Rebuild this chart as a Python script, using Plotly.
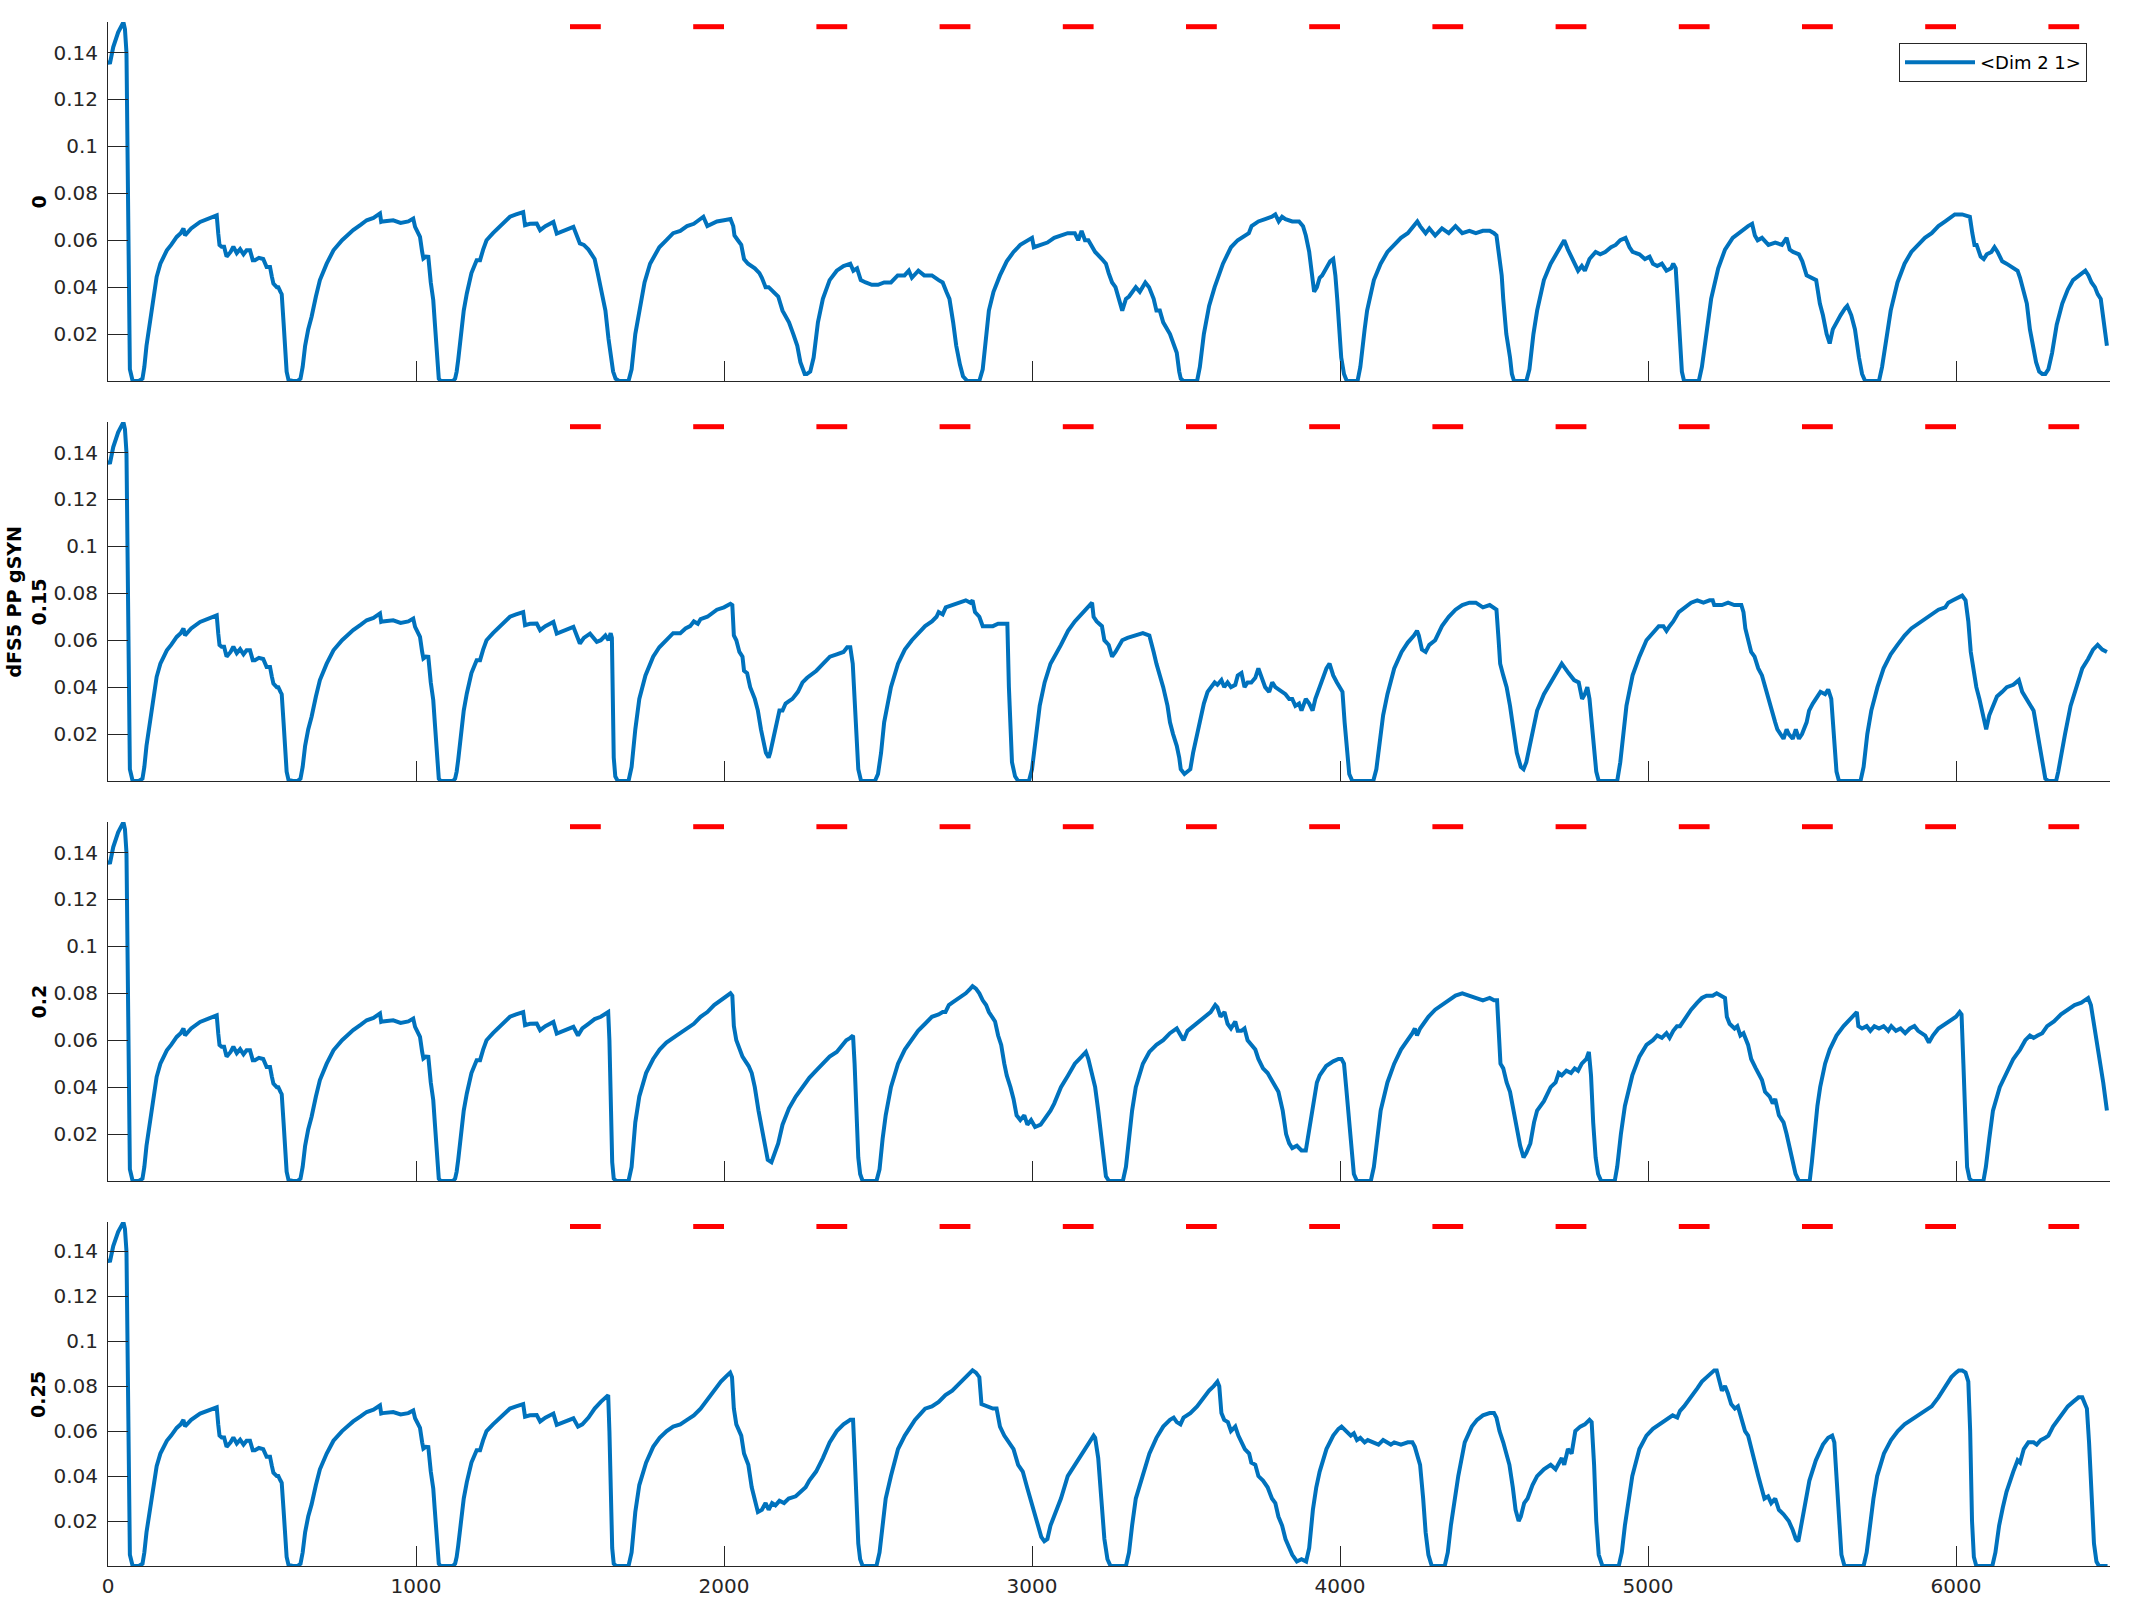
import plotly.graph_objects as go

# ---------------- data ----------------
x_ticks = [0, 1000, 2000, 3000, 4000, 5000, 6000]
y_ticks = [0.02, 0.04, 0.06, 0.08, 0.1, 0.12, 0.14]
y_tick_text = ["0.02", "0.04", "0.06", "0.08", "0.1", "0.12", "0.14"]
panel_labels = ["0", "0.15", "0.2", "0.25"]
group_label = "dFS5 PP gSYN"
legend_name = "&lt;Dim 2 1&gt;"

# red stimulus bars
stim_starts = [1500, 1900, 2300, 2700, 3100, 3500, 3900, 4300, 4700, 5100, 5500, 5900, 6300]
stim_ends = [1600, 2000, 2400, 2800, 3200, 3600, 4000, 4400, 4800, 5200, 5600, 6000, 6400]
stim_level = 0.151

# common start of all four traces (x, value)
shared_start = [
    (0, 0.1366), (6, 0.1352), (17, 0.1423), (33, 0.1486), (50, 0.1529), (55, 0.150), (60, 0.140),
    (64, 0.100), (67, 0.040), (71, 0.005), (80, 0.0), (100, 0.0), (112, 0.001), (118, 0.006),
    (125, 0.015), (131, 0.0203), (140, 0.030), (149, 0.038), (158, 0.0444), (170, 0.050),
    (180, 0.053), (191, 0.0557), (205, 0.058), (223, 0.0614), (236, 0.063), (245, 0.065),
    (250, 0.0621), (270, 0.065), (299, 0.0678), (325, 0.069), (353, 0.0706), (358, 0.0628),
    (362, 0.058), (369, 0.0572), (377, 0.0572), (385, 0.053), (398, 0.055), (407, 0.0572),
    (418, 0.0545), (429, 0.0562), (440, 0.054), (450, 0.0557), (461, 0.0557), (470, 0.0515),
    (477, 0.0515), (490, 0.0525), (504, 0.052), (515, 0.0486), (526, 0.0486), (532, 0.0445),
    (537, 0.0415), (548, 0.040), (553, 0.040), (560, 0.038), (564, 0.037), (570, 0.025),
    (575, 0.0132), (580, 0.004), (586, 0.0005), (600, 0.0), (615, 0.0), (625, 0.001),
    (632, 0.006), (640, 0.015), (650, 0.022), (661, 0.0274), (675, 0.036), (688, 0.043),
    (710, 0.050), (732, 0.0557), (760, 0.060), (796, 0.0643), (820, 0.0665), (840, 0.0685),
    (862, 0.0695), (883, 0.0714), (887, 0.0678), (892, 0.068), (926, 0.0685), (950, 0.0674),
    (975, 0.068), (991, 0.0692), (997, 0.0657), (1005, 0.063), (1013, 0.0614), (1020, 0.055),
    (1024, 0.0522), (1032, 0.053), (1040, 0.0529), (1048, 0.042), (1056, 0.0345), (1061, 0.025),
    (1065, 0.016), (1069, 0.0061), (1074, 0.001), (1080, 0.0), (1100, 0.0), (1120, 0.0),
    (1127, 0.001), (1132, 0.004), (1137, 0.009), (1145, 0.02), (1155, 0.030), (1165, 0.0373),
    (1180, 0.046), (1197, 0.0515), (1208, 0.0515), (1218, 0.056), (1229, 0.060), (1250, 0.063),
    (1273, 0.0657), (1290, 0.068), (1305, 0.070), (1325, 0.071), (1348, 0.072), (1354, 0.0664),
    (1370, 0.067), (1392, 0.0671), (1403, 0.0643), (1420, 0.066), (1446, 0.0678), (1457, 0.0628),
    (1480, 0.064), (1511, 0.0657),
]

tail_0 = [
    (1532, 0.0586), (1545, 0.058), (1560, 0.056), (1571, 0.054), (1580, 0.052), (1590, 0.046),
    (1596, 0.042), (1605, 0.038), (1615, 0.030), (1625, 0.018), (1633, 0.010), (1640, 0.004),
    (1648, 0.001), (1659, 0.0), (1690, 0.0),
    (1700, 0.005), (1712, 0.02), (1725, 0.03), (1742, 0.042), (1760, 0.05), (1790, 0.057),
    (1813, 0.060), (1835, 0.063), (1858, 0.064), (1880, 0.066), (1902, 0.067), (1924, 0.069),
    (1933, 0.070), (1946, 0.066), (1960, 0.067), (1977, 0.068), (2000, 0.0685), (2021, 0.069),
    (2030, 0.066), (2034, 0.062), (2045, 0.060), (2056, 0.058), (2065, 0.052), (2078, 0.050),
    (2100, 0.048), (2115, 0.046), (2123, 0.044), (2135, 0.040), (2145, 0.040), (2160, 0.038),
    (2176, 0.036), (2190, 0.030), (2211, 0.025), (2225, 0.020), (2238, 0.015), (2248, 0.008),
    (2255, 0.005), (2262, 0.003), (2269, 0.003), (2280, 0.004), (2291, 0.010), (2305, 0.025),
    (2321, 0.035), (2343, 0.043), (2366, 0.047), (2388, 0.049), (2410, 0.050), (2420, 0.047),
    (2432, 0.048), (2444, 0.043), (2460, 0.042), (2480, 0.041), (2500, 0.041), (2520, 0.042),
    (2542, 0.042), (2555, 0.044), (2564, 0.045), (2586, 0.045), (2600, 0.047), (2610, 0.044),
    (2631, 0.047), (2650, 0.045), (2675, 0.045), (2697, 0.043), (2710, 0.042), (2722, 0.038),
    (2732, 0.035), (2744, 0.025), (2754, 0.015), (2766, 0.007), (2776, 0.002), (2790, 0.0),
    (2829, 0.0),
    (2840, 0.005), (2850, 0.018), (2860, 0.030), (2875, 0.038), (2896, 0.045), (2918, 0.051),
    (2940, 0.055), (2962, 0.058), (2984, 0.060), (3000, 0.061), (3006, 0.057), (3028, 0.058),
    (3050, 0.059), (3072, 0.061), (3094, 0.062), (3116, 0.063), (3139, 0.063), (3150, 0.060),
    (3161, 0.064), (3172, 0.060), (3183, 0.060), (3195, 0.057), (3205, 0.055), (3227, 0.052),
    (3240, 0.050), (3249, 0.046), (3260, 0.042), (3271, 0.040), (3280, 0.036), (3293, 0.030),
    (3305, 0.035), (3315, 0.036), (3337, 0.040), (3350, 0.038), (3368, 0.042), (3380, 0.040),
    (3395, 0.035), (3404, 0.030), (3415, 0.030), (3426, 0.025), (3448, 0.020), (3460, 0.016),
    (3470, 0.012), (3478, 0.004), (3483, 0.001), (3492, 0.0), (3536, 0.0),
    (3545, 0.006), (3558, 0.020), (3575, 0.032), (3593, 0.040), (3620, 0.050), (3646, 0.057),
    (3668, 0.060), (3690, 0.062), (3704, 0.063), (3713, 0.066), (3735, 0.068), (3757, 0.069),
    (3779, 0.070), (3790, 0.071), (3801, 0.068), (3812, 0.070), (3823, 0.069), (3845, 0.068),
    (3867, 0.068), (3880, 0.066), (3889, 0.062), (3900, 0.055), (3910, 0.045), (3916, 0.038),
    (3925, 0.040), (3934, 0.044), (3942, 0.045), (3955, 0.048), (3968, 0.051), (3978, 0.052),
    (3985, 0.045), (3991, 0.035), (3997, 0.020), (4004, 0.010), (4013, 0.003), (4022, 0.0),
    (4057, 0.0),
    (4066, 0.006), (4080, 0.022), (4088, 0.030), (4110, 0.043), (4132, 0.050), (4154, 0.055),
    (4176, 0.058), (4198, 0.061), (4220, 0.063), (4240, 0.066), (4251, 0.068), (4260, 0.066),
    (4278, 0.063), (4290, 0.065), (4309, 0.062), (4331, 0.065), (4353, 0.063), (4375, 0.066),
    (4397, 0.063), (4420, 0.064), (4441, 0.063), (4464, 0.064), (4486, 0.064), (4500, 0.063),
    (4508, 0.062), (4515, 0.055), (4525, 0.045), (4530, 0.035), (4540, 0.020), (4552, 0.010),
    (4558, 0.003), (4565, 0.0), (4605, 0.0),
    (4615, 0.005), (4628, 0.020), (4640, 0.030), (4662, 0.043), (4684, 0.050), (4706, 0.055),
    (4722, 0.058), (4728, 0.060), (4740, 0.056), (4752, 0.053), (4762, 0.050), (4773, 0.047),
    (4785, 0.049), (4795, 0.047), (4810, 0.052), (4830, 0.055), (4845, 0.054), (4861, 0.055),
    (4880, 0.057), (4895, 0.058), (4910, 0.060), (4927, 0.061), (4940, 0.057), (4950, 0.055),
    (4972, 0.054), (4990, 0.052), (5005, 0.053), (5016, 0.050), (5030, 0.049), (5045, 0.050),
    (5060, 0.047), (5075, 0.048), (5082, 0.050), (5090, 0.048), (5096, 0.035), (5104, 0.015),
    (5110, 0.004), (5117, 0.0), (5165, 0.0),
    (5175, 0.006), (5190, 0.022), (5205, 0.035), (5228, 0.048), (5250, 0.056), (5275, 0.061),
    (5303, 0.064), (5325, 0.066), (5338, 0.067), (5347, 0.062), (5356, 0.060), (5370, 0.061),
    (5391, 0.058), (5413, 0.059), (5435, 0.058), (5450, 0.061), (5460, 0.056), (5471, 0.055),
    (5490, 0.054), (5501, 0.051), (5515, 0.045), (5530, 0.044), (5546, 0.043), (5558, 0.033),
    (5568, 0.028), (5580, 0.020), (5590, 0.016), (5600, 0.022), (5612, 0.025), (5625, 0.028),
    (5640, 0.031), (5647, 0.032), (5660, 0.028), (5672, 0.022), (5685, 0.010), (5695, 0.003),
    (5705, 0.0), (5750, 0.0),
    (5760, 0.006), (5775, 0.020), (5788, 0.030), (5810, 0.042), (5833, 0.050), (5855, 0.055),
    (5877, 0.058), (5899, 0.061), (5921, 0.063), (5943, 0.066), (5965, 0.068), (5985, 0.070),
    (5996, 0.071), (6020, 0.071), (6045, 0.070), (6053, 0.063), (6060, 0.058), (6067, 0.058),
    (6080, 0.053), (6090, 0.052), (6100, 0.054), (6115, 0.055), (6125, 0.057), (6135, 0.055),
    (6150, 0.051), (6164, 0.050), (6185, 0.048), (6200, 0.047), (6208, 0.044), (6220, 0.038),
    (6230, 0.033), (6240, 0.022), (6250, 0.014), (6260, 0.008), (6270, 0.004), (6280, 0.003),
    (6290, 0.003), (6300, 0.005), (6312, 0.012), (6327, 0.024), (6345, 0.033), (6363, 0.039),
    (6380, 0.043), (6398, 0.045), (6410, 0.046), (6420, 0.047), (6430, 0.045), (6440, 0.042),
    (6451, 0.040), (6460, 0.037), (6470, 0.035), (6478, 0.025), (6485, 0.020), (6490, 0.015),
]

tail_015 = [
    (1532, 0.0586), (1545, 0.061), (1565, 0.0628), (1587, 0.0593), (1600, 0.060), (1615, 0.062),
    (1625, 0.060), (1632, 0.063), (1636, 0.061), (1639, 0.040), (1642, 0.010), (1647, 0.002),
    (1655, 0.0), (1690, 0.0),
    (1700, 0.006), (1712, 0.022), (1725, 0.035), (1745, 0.045), (1770, 0.053), (1790, 0.057),
    (1813, 0.060), (1835, 0.063), (1858, 0.063), (1875, 0.065), (1890, 0.066), (1902, 0.068),
    (1915, 0.067), (1924, 0.069), (1946, 0.070), (1965, 0.072), (1977, 0.073), (2000, 0.074),
    (2021, 0.0755), (2027, 0.075), (2032, 0.062), (2040, 0.060), (2050, 0.055), (2060, 0.053),
    (2065, 0.047), (2075, 0.046), (2085, 0.040), (2100, 0.035), (2110, 0.030), (2120, 0.022),
    (2130, 0.015), (2136, 0.012), (2145, 0.010), (2150, 0.012), (2160, 0.018), (2170, 0.025),
    (2180, 0.030), (2190, 0.030), (2200, 0.033), (2211, 0.034), (2222, 0.035), (2240, 0.038),
    (2255, 0.042), (2270, 0.044), (2280, 0.045), (2300, 0.047), (2322, 0.050), (2344, 0.053),
    (2366, 0.054), (2388, 0.055), (2400, 0.057), (2410, 0.057), (2418, 0.050), (2425, 0.030),
    (2430, 0.015), (2436, 0.005), (2445, 0.0), (2490, 0.0),
    (2500, 0.003), (2510, 0.012), (2520, 0.025), (2542, 0.040), (2565, 0.050), (2587, 0.056),
    (2610, 0.060), (2630, 0.063), (2653, 0.066), (2675, 0.068), (2690, 0.070), (2697, 0.072),
    (2710, 0.071), (2720, 0.074), (2741, 0.075), (2763, 0.076), (2785, 0.077), (2800, 0.076),
    (2807, 0.077), (2815, 0.072), (2829, 0.070), (2840, 0.066), (2851, 0.066), (2873, 0.066),
    (2890, 0.067), (2920, 0.067), (2925, 0.040), (2930, 0.020), (2935, 0.008), (2945, 0.002),
    (2955, 0.0), (2990, 0.0),
    (3000, 0.005), (3012, 0.018), (3025, 0.032), (3041, 0.042), (3060, 0.050), (3094, 0.058),
    (3117, 0.064), (3139, 0.068), (3161, 0.071), (3183, 0.074), (3195, 0.076), (3200, 0.070),
    (3210, 0.068), (3227, 0.066), (3235, 0.060), (3249, 0.058), (3260, 0.053), (3271, 0.055),
    (3280, 0.057), (3293, 0.060), (3310, 0.061), (3337, 0.062), (3360, 0.063), (3381, 0.062),
    (3390, 0.058), (3395, 0.055), (3404, 0.050), (3415, 0.045), (3426, 0.040), (3440, 0.032),
    (3448, 0.025), (3458, 0.020), (3470, 0.015), (3478, 0.010), (3483, 0.005), (3495, 0.003),
    (3505, 0.004), (3514, 0.005), (3523, 0.012), (3536, 0.020), (3550, 0.028), (3558, 0.033),
    (3570, 0.038), (3580, 0.040), (3593, 0.042), (3602, 0.041), (3615, 0.043), (3624, 0.040),
    (3635, 0.042), (3646, 0.040), (3660, 0.041), (3668, 0.045), (3680, 0.046), (3690, 0.040),
    (3700, 0.042), (3712, 0.042), (3725, 0.044), (3735, 0.048), (3745, 0.044), (3757, 0.040),
    (3770, 0.038), (3780, 0.042), (3790, 0.040), (3801, 0.039), (3812, 0.038), (3823, 0.037),
    (3835, 0.035), (3845, 0.035), (3855, 0.032), (3867, 0.033), (3875, 0.030), (3889, 0.035),
    (3900, 0.033), (3911, 0.030), (3920, 0.035), (3934, 0.040), (3945, 0.045), (3956, 0.048),
    (3966, 0.050), (3978, 0.045), (3990, 0.042), (4000, 0.040), (4008, 0.038), (4015, 0.025),
    (4022, 0.012), (4030, 0.003), (4040, 0.0), (4108, 0.0),
    (4118, 0.005), (4130, 0.018), (4140, 0.028), (4154, 0.037), (4176, 0.048), (4200, 0.055),
    (4220, 0.059), (4240, 0.062), (4250, 0.064), (4256, 0.062), (4266, 0.056), (4278, 0.055),
    (4290, 0.058), (4309, 0.060), (4331, 0.066), (4353, 0.070), (4375, 0.073), (4397, 0.075),
    (4420, 0.076), (4441, 0.076), (4455, 0.075), (4464, 0.074), (4486, 0.075), (4500, 0.074),
    (4508, 0.073), (4515, 0.060), (4520, 0.050), (4530, 0.045), (4541, 0.040), (4552, 0.032),
    (4565, 0.020), (4574, 0.012), (4587, 0.006), (4596, 0.005), (4605, 0.008), (4620, 0.018),
    (4632, 0.025), (4640, 0.030), (4662, 0.037), (4684, 0.042), (4700, 0.045), (4710, 0.048),
    (4720, 0.050), (4742, 0.046), (4760, 0.043), (4775, 0.042), (4786, 0.035), (4795, 0.037),
    (4803, 0.040), (4810, 0.035), (4817, 0.025), (4825, 0.012), (4832, 0.004), (4840, 0.0),
    (4900, 0.0),
    (4910, 0.008), (4920, 0.022), (4930, 0.032), (4950, 0.045), (4972, 0.053), (4995, 0.060),
    (5015, 0.063), (5035, 0.066), (5050, 0.066), (5060, 0.064), (5070, 0.066), (5082, 0.068),
    (5100, 0.072), (5120, 0.074), (5140, 0.076), (5160, 0.077), (5180, 0.076), (5200, 0.077),
    (5210, 0.077), (5215, 0.075), (5225, 0.075), (5240, 0.075), (5260, 0.076), (5280, 0.075),
    (5303, 0.075), (5310, 0.072), (5316, 0.065), (5325, 0.060), (5335, 0.055), (5346, 0.053),
    (5358, 0.048), (5370, 0.045), (5380, 0.040), (5391, 0.035), (5400, 0.030), (5413, 0.025),
    (5420, 0.022), (5430, 0.020), (5440, 0.018), (5450, 0.022), (5457, 0.020), (5470, 0.018),
    (5480, 0.022), (5490, 0.018), (5500, 0.020), (5515, 0.025), (5523, 0.030), (5535, 0.033),
    (5546, 0.035), (5560, 0.038), (5575, 0.037), (5585, 0.039), (5595, 0.035), (5600, 0.025),
    (5605, 0.012), (5612, 0.004), (5620, 0.0), (5690, 0.0),
    (5700, 0.006), (5712, 0.02), (5725, 0.030), (5745, 0.040), (5765, 0.048), (5788, 0.054),
    (5810, 0.058), (5833, 0.062), (5855, 0.065), (5877, 0.067), (5899, 0.069), (5921, 0.071),
    (5943, 0.073), (5965, 0.074), (5975, 0.076), (5990, 0.077), (6009, 0.078), (6020, 0.079),
    (6031, 0.077), (6040, 0.068), (6048, 0.055), (6056, 0.048), (6066, 0.040), (6076, 0.035),
    (6088, 0.028), (6098, 0.022), (6108, 0.028), (6120, 0.032), (6133, 0.036), (6150, 0.038),
    (6165, 0.040), (6186, 0.041), (6204, 0.043), (6215, 0.038), (6230, 0.035), (6240, 0.033),
    (6252, 0.030), (6265, 0.020), (6276, 0.012), (6283, 0.006), (6290, 0.001), (6300, 0.0),
    (6325, 0.0), (6332, 0.004), (6342, 0.012), (6354, 0.020), (6372, 0.032), (6394, 0.042),
    (6410, 0.048), (6429, 0.052), (6445, 0.056), (6460, 0.058), (6475, 0.056), (6490, 0.055),
]

tail_02 = [
    (1526, 0.062), (1540, 0.065), (1560, 0.067), (1580, 0.069), (1600, 0.070), (1615, 0.071),
    (1624, 0.072), (1628, 0.060), (1632, 0.030), (1637, 0.008), (1642, 0.001), (1650, 0.0),
    (1690, 0.0),
    (1700, 0.006), (1712, 0.025), (1725, 0.036), (1747, 0.046), (1770, 0.052), (1791, 0.056),
    (1813, 0.059), (1835, 0.061), (1858, 0.063), (1880, 0.065), (1902, 0.067), (1924, 0.070),
    (1946, 0.072), (1968, 0.075), (1990, 0.077), (2012, 0.079), (2021, 0.080), (2027, 0.079),
    (2032, 0.066), (2040, 0.060), (2050, 0.056), (2060, 0.053), (2070, 0.051), (2080, 0.049),
    (2090, 0.046), (2100, 0.040), (2112, 0.030), (2123, 0.022), (2132, 0.015), (2142, 0.009),
    (2154, 0.008), (2165, 0.012), (2176, 0.016), (2190, 0.024), (2211, 0.031), (2233, 0.036),
    (2255, 0.040), (2277, 0.044), (2299, 0.047), (2320, 0.050), (2343, 0.053), (2366, 0.055),
    (2385, 0.058), (2397, 0.060), (2410, 0.061), (2419, 0.062), (2424, 0.050), (2430, 0.025),
    (2436, 0.010), (2442, 0.003), (2450, 0.0), (2495, 0.0),
    (2505, 0.005), (2515, 0.018), (2525, 0.028), (2542, 0.040), (2565, 0.050), (2587, 0.056),
    (2608, 0.060), (2630, 0.064), (2653, 0.067), (2675, 0.070), (2697, 0.071), (2710, 0.072),
    (2719, 0.072), (2730, 0.075), (2741, 0.076), (2763, 0.078), (2785, 0.080), (2800, 0.082),
    (2807, 0.083), (2818, 0.082), (2829, 0.080), (2840, 0.077), (2851, 0.075), (2860, 0.072),
    (2870, 0.070), (2880, 0.068), (2890, 0.062), (2900, 0.058), (2910, 0.050), (2918, 0.045),
    (2930, 0.040), (2940, 0.035), (2950, 0.028), (2962, 0.026), (2975, 0.028), (2985, 0.024),
    (2997, 0.026), (3010, 0.023), (3028, 0.024), (3045, 0.027), (3060, 0.030), (3072, 0.033),
    (3094, 0.040), (3117, 0.045), (3139, 0.050), (3161, 0.053), (3175, 0.055), (3183, 0.052),
    (3195, 0.045), (3205, 0.040), (3215, 0.030), (3225, 0.018), (3232, 0.008), (3240, 0.002),
    (3250, 0.0), (3295, 0.0),
    (3305, 0.006), (3315, 0.020), (3325, 0.030), (3337, 0.040), (3360, 0.050), (3381, 0.055),
    (3404, 0.058), (3426, 0.060), (3448, 0.063), (3470, 0.065), (3480, 0.063), (3492, 0.060),
    (3505, 0.064), (3523, 0.066), (3540, 0.068), (3558, 0.070), (3580, 0.072), (3595, 0.075),
    (3602, 0.074), (3612, 0.070), (3625, 0.072), (3635, 0.067), (3646, 0.065), (3660, 0.068),
    (3668, 0.064), (3680, 0.064), (3690, 0.065), (3700, 0.060), (3712, 0.058), (3725, 0.056),
    (3735, 0.052), (3750, 0.048), (3765, 0.046), (3779, 0.043), (3790, 0.040), (3800, 0.038),
    (3814, 0.030), (3825, 0.020), (3835, 0.016), (3845, 0.014), (3860, 0.015), (3875, 0.013),
    (3889, 0.013), (3895, 0.018), (3903, 0.025), (3915, 0.035), (3925, 0.042), (3934, 0.045),
    (3955, 0.049), (3978, 0.051), (3995, 0.052), (4005, 0.052), (4013, 0.050), (4020, 0.040),
    (4030, 0.025), (4038, 0.010), (4045, 0.003), (4055, 0.0), (4100, 0.0),
    (4110, 0.006), (4120, 0.018), (4132, 0.030), (4154, 0.042), (4176, 0.050), (4198, 0.056),
    (4221, 0.060), (4235, 0.063), (4243, 0.065), (4250, 0.062), (4260, 0.065), (4275, 0.068),
    (4287, 0.070), (4309, 0.073), (4331, 0.075), (4353, 0.077), (4375, 0.079), (4397, 0.080),
    (4420, 0.079), (4441, 0.078), (4464, 0.077), (4486, 0.078), (4500, 0.077), (4510, 0.077),
    (4515, 0.060), (4521, 0.050), (4530, 0.048), (4541, 0.042), (4552, 0.038), (4563, 0.030),
    (4574, 0.024), (4585, 0.015), (4596, 0.010), (4605, 0.012), (4618, 0.016), (4630, 0.025),
    (4640, 0.030), (4662, 0.034), (4684, 0.040), (4700, 0.042), (4710, 0.046), (4720, 0.045),
    (4735, 0.047), (4750, 0.046), (4762, 0.048), (4773, 0.047), (4785, 0.050), (4800, 0.052),
    (4808, 0.055), (4815, 0.045), (4822, 0.025), (4830, 0.010), (4838, 0.003), (4848, 0.0),
    (4892, 0.0),
    (4900, 0.006), (4912, 0.020), (4925, 0.032), (4949, 0.045), (4972, 0.053), (4995, 0.058),
    (5016, 0.060), (5030, 0.062), (5045, 0.061), (5060, 0.063), (5070, 0.061), (5082, 0.064),
    (5094, 0.066), (5104, 0.066), (5120, 0.069), (5140, 0.073), (5160, 0.076), (5175, 0.078),
    (5190, 0.079), (5210, 0.079), (5223, 0.080), (5240, 0.079), (5250, 0.078), (5256, 0.070),
    (5265, 0.067), (5281, 0.065), (5290, 0.066), (5300, 0.062), (5310, 0.063), (5325, 0.058),
    (5335, 0.052), (5350, 0.048), (5360, 0.045), (5370, 0.043), (5380, 0.038), (5395, 0.036),
    (5405, 0.033), (5413, 0.035), (5425, 0.028), (5440, 0.025), (5450, 0.020), (5460, 0.014),
    (5470, 0.008), (5479, 0.003), (5490, 0.0), (5525, 0.0),
    (5532, 0.008), (5540, 0.020), (5550, 0.032), (5559, 0.040), (5575, 0.050), (5590, 0.056),
    (5612, 0.062), (5635, 0.066), (5656, 0.069), (5668, 0.071), (5678, 0.072), (5683, 0.066),
    (5695, 0.065), (5710, 0.066), (5722, 0.064), (5735, 0.066), (5750, 0.065), (5765, 0.066),
    (5780, 0.064), (5790, 0.066), (5805, 0.064), (5820, 0.065), (5835, 0.063), (5850, 0.065),
    (5865, 0.066), (5877, 0.064), (5890, 0.063), (5900, 0.062), (5912, 0.059), (5925, 0.062),
    (5943, 0.065), (5965, 0.067), (5985, 0.069), (6000, 0.070), (6012, 0.072), (6018, 0.071),
    (6024, 0.050), (6030, 0.020), (6036, 0.006), (6044, 0.001), (6052, 0.0), (6089, 0.0),
    (6097, 0.006), (6108, 0.018), (6120, 0.030), (6142, 0.040), (6164, 0.046), (6186, 0.052),
    (6208, 0.056), (6225, 0.060), (6240, 0.062), (6252, 0.061), (6265, 0.062), (6280, 0.063),
    (6296, 0.066), (6318, 0.068), (6341, 0.071), (6363, 0.073), (6385, 0.075), (6407, 0.076),
    (6420, 0.077), (6429, 0.078), (6438, 0.075), (6447, 0.068), (6456, 0.060), (6464, 0.055),
    (6470, 0.048), (6478, 0.042), (6485, 0.035), (6490, 0.030),
]

tail_025 = [
    (1526, 0.062), (1540, 0.063), (1560, 0.066), (1580, 0.070), (1600, 0.073), (1615, 0.075),
    (1624, 0.076), (1628, 0.060), (1632, 0.030), (1637, 0.008), (1642, 0.001), (1650, 0.0),
    (1690, 0.0),
    (1700, 0.006), (1712, 0.024), (1725, 0.036), (1747, 0.046), (1770, 0.053), (1791, 0.057),
    (1814, 0.060), (1835, 0.062), (1858, 0.063), (1880, 0.065), (1902, 0.067), (1924, 0.070),
    (1946, 0.074), (1968, 0.078), (1990, 0.082), (2012, 0.085), (2020, 0.086), (2026, 0.084),
    (2032, 0.070), (2040, 0.063), (2050, 0.060), (2056, 0.058), (2065, 0.050), (2079, 0.045),
    (2090, 0.035), (2101, 0.028), (2110, 0.024), (2123, 0.025), (2135, 0.028), (2145, 0.025),
    (2156, 0.028), (2167, 0.027), (2180, 0.029), (2195, 0.028), (2210, 0.030), (2233, 0.031),
    (2250, 0.033), (2265, 0.035), (2277, 0.038), (2299, 0.042), (2321, 0.048), (2343, 0.055),
    (2366, 0.060), (2388, 0.063), (2410, 0.065), (2419, 0.065), (2424, 0.050), (2430, 0.025),
    (2436, 0.010), (2442, 0.003), (2450, 0.0), (2495, 0.0),
    (2505, 0.006), (2515, 0.018), (2525, 0.030), (2542, 0.040), (2565, 0.052), (2587, 0.058),
    (2600, 0.061), (2620, 0.065), (2640, 0.068), (2653, 0.070), (2675, 0.071), (2697, 0.073),
    (2719, 0.076), (2741, 0.078), (2763, 0.081), (2785, 0.084), (2800, 0.086), (2807, 0.087),
    (2818, 0.086), (2829, 0.084), (2836, 0.072), (2851, 0.071), (2873, 0.070), (2885, 0.070),
    (2896, 0.062), (2910, 0.058), (2925, 0.055), (2940, 0.052), (2955, 0.045), (2970, 0.042),
    (2984, 0.035), (2995, 0.030), (3005, 0.025), (3019, 0.018), (3030, 0.013), (3040, 0.011),
    (3050, 0.012), (3060, 0.018), (3072, 0.022), (3094, 0.030), (3116, 0.040), (3139, 0.045),
    (3161, 0.050), (3183, 0.055), (3200, 0.058), (3205, 0.057), (3215, 0.048), (3225, 0.030),
    (3235, 0.012), (3245, 0.003), (3255, 0.0), (3305, 0.0),
    (3315, 0.006), (3325, 0.018), (3337, 0.030), (3359, 0.040), (3381, 0.050), (3404, 0.057),
    (3426, 0.062), (3448, 0.065), (3460, 0.066), (3470, 0.064), (3482, 0.063), (3492, 0.066),
    (3514, 0.068), (3536, 0.071), (3558, 0.075), (3575, 0.078), (3590, 0.080), (3602, 0.082),
    (3608, 0.080), (3615, 0.068), (3624, 0.065), (3636, 0.064), (3646, 0.060), (3660, 0.062),
    (3670, 0.058), (3680, 0.055), (3691, 0.052), (3705, 0.050), (3712, 0.046), (3725, 0.045),
    (3735, 0.040), (3750, 0.038), (3765, 0.035), (3779, 0.030), (3790, 0.028), (3800, 0.022),
    (3812, 0.018), (3823, 0.012), (3835, 0.008), (3845, 0.005), (3860, 0.002), (3875, 0.003),
    (3890, 0.002), (3900, 0.008), (3912, 0.025), (3923, 0.035), (3934, 0.042), (3956, 0.052),
    (3978, 0.058), (3995, 0.061), (4005, 0.062), (4022, 0.060), (4035, 0.058), (4045, 0.059),
    (4055, 0.056), (4066, 0.057), (4080, 0.055), (4090, 0.056), (4110, 0.055), (4125, 0.054),
    (4140, 0.056), (4154, 0.055), (4165, 0.054), (4176, 0.055), (4198, 0.054), (4220, 0.055),
    (4235, 0.055), (4243, 0.053), (4250, 0.050), (4260, 0.045), (4270, 0.030), (4278, 0.015),
    (4287, 0.005), (4298, 0.0), (4340, 0.0),
    (4350, 0.006), (4360, 0.018), (4372, 0.030), (4384, 0.040), (4405, 0.055), (4428, 0.062),
    (4445, 0.065), (4464, 0.067), (4486, 0.068), (4500, 0.068), (4508, 0.066), (4518, 0.060),
    (4530, 0.055), (4540, 0.050), (4550, 0.045), (4561, 0.035), (4570, 0.025), (4580, 0.020),
    (4587, 0.022), (4598, 0.028), (4609, 0.030), (4625, 0.036), (4640, 0.040), (4662, 0.043),
    (4684, 0.045), (4700, 0.043), (4712, 0.046), (4720, 0.048), (4728, 0.045), (4740, 0.052),
    (4752, 0.050), (4764, 0.060), (4780, 0.062), (4795, 0.063), (4810, 0.065), (4817, 0.064),
    (4825, 0.045), (4832, 0.020), (4840, 0.005), (4852, 0.0), (4905, 0.0),
    (4915, 0.006), (4925, 0.018), (4937, 0.030), (4949, 0.040), (4972, 0.052), (4995, 0.058),
    (5016, 0.061), (5038, 0.063), (5060, 0.065), (5080, 0.067), (5095, 0.066), (5104, 0.069),
    (5117, 0.071), (5140, 0.075), (5160, 0.079), (5175, 0.082), (5190, 0.084), (5205, 0.086),
    (5215, 0.087), (5223, 0.087), (5232, 0.082), (5240, 0.078), (5250, 0.080), (5259, 0.077),
    (5270, 0.072), (5282, 0.070), (5292, 0.071), (5303, 0.066), (5315, 0.060), (5325, 0.058),
    (5335, 0.052), (5347, 0.045), (5358, 0.040), (5368, 0.035), (5378, 0.030), (5390, 0.031),
    (5400, 0.028), (5413, 0.030), (5425, 0.025), (5440, 0.023), (5457, 0.020), (5470, 0.016),
    (5480, 0.012), (5488, 0.011), (5497, 0.018), (5505, 0.025), (5515, 0.033), (5524, 0.038),
    (5545, 0.047), (5568, 0.054), (5585, 0.057), (5598, 0.058), (5605, 0.055), (5612, 0.040),
    (5620, 0.018), (5628, 0.005), (5638, 0.0), (5700, 0.0),
    (5710, 0.006), (5720, 0.018), (5732, 0.030), (5744, 0.040), (5766, 0.050), (5789, 0.056),
    (5811, 0.060), (5833, 0.063), (5855, 0.065), (5877, 0.067), (5899, 0.069), (5921, 0.071),
    (5943, 0.075), (5965, 0.080), (5985, 0.084), (6000, 0.086), (6009, 0.087), (6020, 0.087),
    (6031, 0.086), (6040, 0.082), (6046, 0.060), (6052, 0.020), (6058, 0.004), (6066, 0.0),
    (6118, 0.0),
    (6128, 0.006), (6140, 0.018), (6152, 0.026), (6164, 0.033), (6186, 0.042), (6200, 0.047),
    (6208, 0.046), (6220, 0.052), (6235, 0.055), (6252, 0.055), (6262, 0.054), (6275, 0.056),
    (6290, 0.057), (6300, 0.058), (6315, 0.062), (6330, 0.065), (6345, 0.068), (6363, 0.071),
    (6380, 0.073), (6398, 0.075), (6410, 0.075), (6425, 0.070), (6432, 0.055), (6440, 0.030),
    (6448, 0.010), (6456, 0.002), (6464, 0.0), (6492, 0.0),
]

series = [shared_start + tail_0, shared_start + tail_015, shared_start + tail_02, shared_start + tail_025]

# ---------------- layout geometry ----------------
W, H = 2133, 1600
x_dom = [108 / W, 2110 / W]
panel_px = [(22, 381), (422, 781), (822, 1181), (1222, 1566)]  # top, bottom in px
x_range = [0, 6500]
y_range = [0, 0.153]

BLUE = "#0072BD"
AX = "#262626"
FONT = "DejaVu Sans"

fig = go.Figure()

stim_x, stim_y = [], []
for s, e in zip(stim_starts, stim_ends):
    stim_x += [s, e, None]
    stim_y += [stim_level, stim_level, None]

layout = dict(
    template="none",
    width=W, height=H,
    margin=dict(l=0, r=0, t=0, b=0, autoexpand=False),
    paper_bgcolor="white", plot_bgcolor="white",
    font=dict(family=FONT, size=20, color=AX),
    showlegend=True,
    legend=dict(
        x=1899 / W, y=1 - 43 / H, xanchor="left", yanchor="top",
        bgcolor="white", bordercolor=AX, borderwidth=1,
        font=dict(family=FONT, size=18, color="black"),
        itemwidth=70, tracegroupgap=0,
    ),
    annotations=[],
)

for i, pts in enumerate(series):
    n = "" if i == 0 else str(i + 1)
    xs = [p[0] for p in pts]
    ys = [p[1] for p in pts]
    fig.add_trace(go.Scatter(
        x=xs, y=ys, mode="lines", name=legend_name,
        line=dict(color=BLUE, width=4),
        showlegend=(i == 0), xaxis="x" + n, yaxis="y" + n,
    ))
    fig.add_trace(go.Scatter(
        x=stim_x, y=stim_y, mode="lines",
        line=dict(color="#FF0000", width=5),
        showlegend=False, hoverinfo="skip", xaxis="x" + n, yaxis="y" + n,
    ))
    top, bot = panel_px[i]
    ydom = [1 - bot / H, 1 - top / H]
    layout["xaxis" + n] = dict(
        domain=x_dom, range=x_range, anchor="y" + n, automargin=False,
        showline=True, linecolor=AX, linewidth=1, mirror=False,
        ticks="inside", ticklen=20, tickwidth=1, tickcolor=AX,
        tickvals=x_ticks, showticklabels=(i == 3),
        tickfont=dict(family=FONT, size=20, color=AX),
        ticklabelstandoff=2,
        showgrid=False, zeroline=False,
    )
    layout["yaxis" + n] = dict(
        domain=ydom, range=y_range, anchor="x" + n, automargin=False,
        showline=True, linecolor=AX, linewidth=1, mirror=False,
        ticks="inside", ticklen=20, tickwidth=1, tickcolor=AX,
        tickvals=y_ticks, ticktext=y_tick_text,
        tickfont=dict(family=FONT, size=20, color=AX),
        ticklabelstandoff=5,
        showgrid=False, zeroline=False,
    )
    ymid = 1 - (top + bot) / 2 / H
    layout["annotations"].append(dict(
        text="<b>" + panel_labels[i] + "</b>", x=38 / W, y=ymid, xref="paper", yref="paper",
        xanchor="center", yanchor="middle", textangle=-90, showarrow=False,
        font=dict(family=FONT, size=19, color="black"),
    ))
    if i == 1:
        layout["annotations"].append(dict(
            text="<b>" + group_label + "</b>", x=13 / W, y=ymid, xref="paper", yref="paper",
            xanchor="center", yanchor="middle", textangle=-90, showarrow=False,
            font=dict(family=FONT, size=19, color="black"),
        ))

fig.update_layout(**layout)
fig.write_html("out.html")
